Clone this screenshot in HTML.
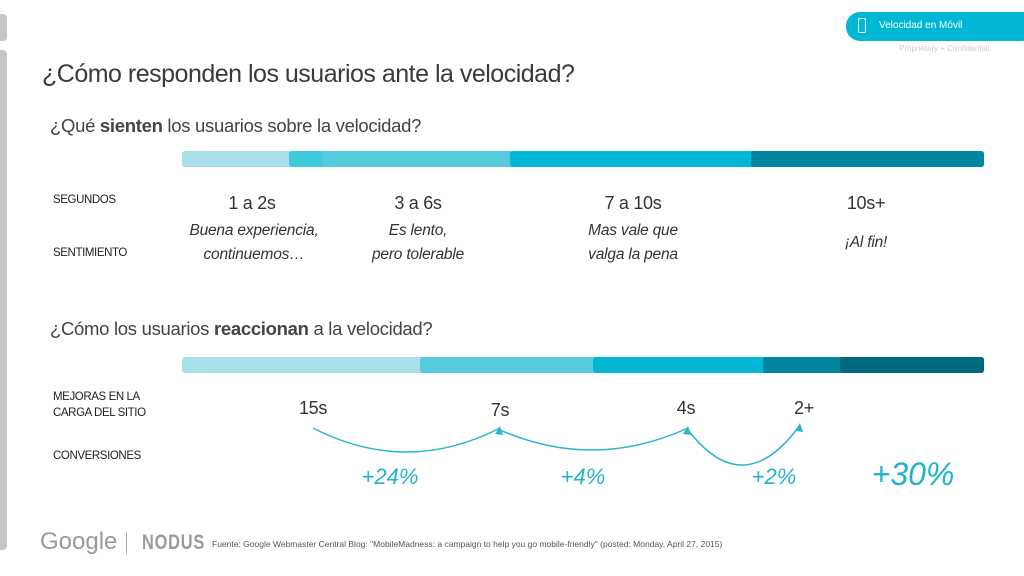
<!DOCTYPE html>
<html><head><meta charset="utf-8">
<style>
*{margin:0;padding:0;box-sizing:border-box}
body{width:1024px;height:576px;background:#fff;position:relative;overflow:hidden;font-family:"Liberation Sans",sans-serif;color:#333}
.a{position:absolute;white-space:nowrap}
.c{text-align:center;transform:translateX(-50%)}
.lab{font-size:11.5px;color:#222;letter-spacing:-0.4px;line-height:16px}
.sec{font-size:18px;color:#333;letter-spacing:-0.3px}
.it{font-size:15.5px;font-style:italic;color:#333;line-height:24px;letter-spacing:-0.2px}
.pct{color:#1fb3cc;font-size:22px;font-style:italic}
</style></head><body>
<div class="a" style="left:0;top:14px;width:7px;height:27px;background:#c4c6ca;border-radius:0 4px 4px 0"></div>
<div class="a" style="left:0;top:50px;width:7px;height:500px;background:#c4c6ca;border-radius:0 4px 4px 0"></div>
<div class="a" style="left:846px;top:12px;width:190px;height:29px;background:#00b8d4;border-radius:14px"></div>
<div class="a" style="left:858px;top:18px;width:8px;height:15px;border:1.5px solid #fff;border-radius:2px"></div>
<div class="a" style="left:879px;top:20px;font-size:10px;color:#fff">Velocidad en Móvil</div>
<div class="a" style="left:899px;top:44px;font-size:8px;color:#ccc">Proprietary + Confidential</div>
<div class="a" style="left:42px;top:60px;font-size:25px;color:#3a3a3a;letter-spacing:-0.5px">¿Cómo responden los usuarios ante la velocidad?</div>
<div class="a" style="left:50px;top:115px;font-size:18.5px;color:#444;letter-spacing:-0.3px">¿Qué <b>sienten</b> los usuarios sobre la velocidad?</div>
<div class="a" style="left:50px;top:318px;font-size:18.5px;color:#444;letter-spacing:-0.3px">¿Cómo los usuarios <b>reaccionan</b> a la velocidad?</div>
<svg class="a" id="bars" style="left:0;top:0" width="1024" height="576"></svg>
<div class="a lab" style="left:53px;top:192px">SEGUNDOS</div>
<div class="a lab" style="left:53px;top:245px">SENTIMIENTO</div>
<div class="a lab" style="left:53px;top:389px">MEJORAS EN LA<br>CARGA DEL SITIO</div>
<div class="a lab" style="left:53px;top:448px">CONVERSIONES</div>
<div class="a sec c" style="left:252px;top:193px">1 a 2s</div>
<div class="a sec c" style="left:418px;top:193px">3 a 6s</div>
<div class="a sec c" style="left:633px;top:193px">7 a 10s</div>
<div class="a sec c" style="left:866px;top:193px">10s+</div>
<div class="a it c" style="left:254px;top:219px">Buena experiencia,<br>continuemos…</div>
<div class="a it c" style="left:418px;top:219px">Es lento,<br>pero tolerable</div>
<div class="a it c" style="left:633px;top:219px">Mas vale que<br>valga la pena</div>
<div class="a it c" style="left:866px;top:231px">¡Al fin!</div>
<div class="a sec c" style="left:313px;top:398px">15s</div>
<div class="a sec c" style="left:500px;top:400px">7s</div>
<div class="a sec c" style="left:686px;top:398px">4s</div>
<div class="a sec c" style="left:804px;top:398px">2+</div>
<div class="a pct c" style="left:390px;top:464px">+24%</div>
<div class="a pct c" style="left:583px;top:464px">+4%</div>
<div class="a pct c" style="left:774px;top:464px">+2%</div>
<div class="a pct c" style="left:913px;top:456px;font-size:32px">+30%</div>
<div class="a" style="left:40px;top:528px;font-size:24px;color:#9a9a9a">Google</div>
<div class="a" style="left:126px;top:532px;width:1px;height:22px;background:#aaa"></div>
<div class="a" style="left:142px;top:531px;font-size:21px;font-weight:bold;color:#9a9a9a;letter-spacing:1px;transform:scaleX(0.78);transform-origin:left top">NODUS</div>
<div class="a" style="left:212px;top:539px;font-size:8.5px;color:#555">Fuente: Google Webmaster Central Blog: "MobileMadness: a campaign to help you go mobile-friendly" (posted: Monday, April 27, 2015)</div>
<script>
const feelBounds=[182,289,322,510,751,984];
const feelColors=["#a8dfe8","#3ec9dc","#56cbdc","#00b8d4","#00879f"];
const reactBounds=[182,420,593,763,840,984];
const reactColors=["#a8dfe8","#56cbdc","#00b8d4","#00879f","#006b7e"];
const arcs=[[313,428,500,428,452],[500,430,688,428,450],[688,430,800,425,465]];
const svg=document.getElementById('bars');
const NS='http://www.w3.org/2000/svg';
function bar(b,cols,y,name){
 for(let i=0;i<cols.length;i++){
  const r=document.createElementNS(NS,'rect');
  r.setAttribute('x',b[i]);r.setAttribute('y',y);
  r.setAttribute('width',b[b.length-1]-b[i]);r.setAttribute('height',16);
  r.setAttribute('rx',3);r.setAttribute('fill',cols[i]);
  
  
  svg.appendChild(r);
 }
}
bar(feelBounds,feelColors,151,'feel-bar');
bar(reactBounds,reactColors,357,'react-bar');
arcs.forEach(a=>{
 const [x1,y1,x2,y2,yb]=a;
 const p=document.createElementNS(NS,'path');
 const cy=2*yb-(y1+y2)/2;
 p.setAttribute('d',`M${x1},${y1} Q${(x1+x2)/2},${cy} ${x2},${y2}`);
 p.setAttribute('fill','none');p.setAttribute('stroke','#2bb5cc');p.setAttribute('stroke-width','1.5');
 
 
 svg.appendChild(p);
 const h=document.createElementNS(NS,'path');
 h.setAttribute('d',`M${x2-5},${y2+6} L${x2},${y2-2} L${x2+3},${y2+7} Z`);
 h.setAttribute('fill','#2bb5cc');
 
 
 svg.appendChild(h);
});
</script>
</body></html>
